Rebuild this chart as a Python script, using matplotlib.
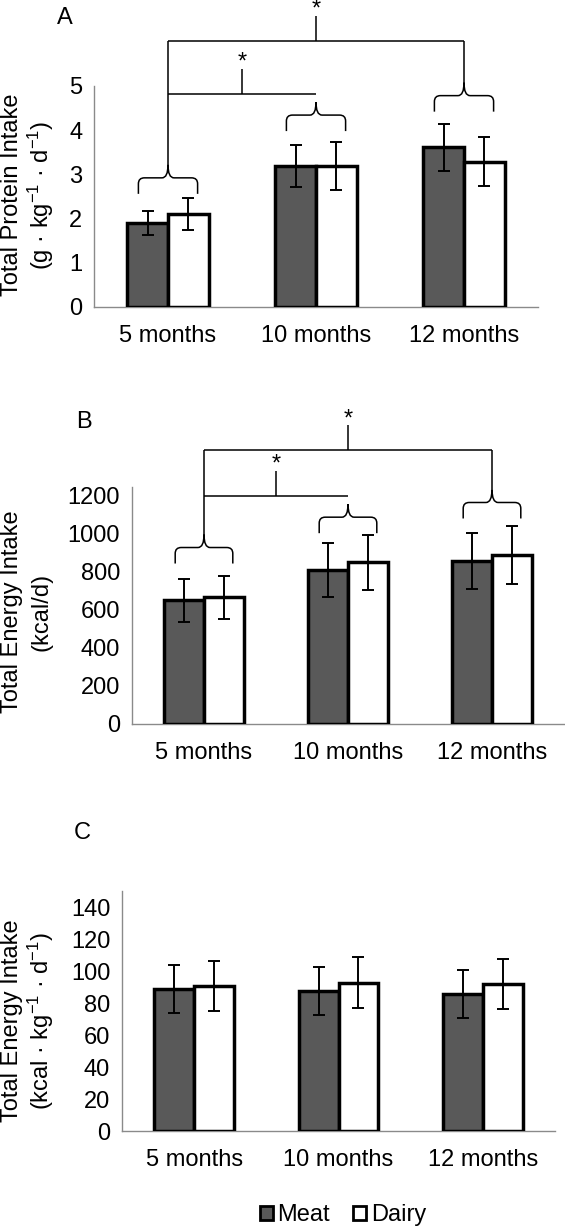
import matplotlib
matplotlib.use('Agg')
import matplotlib.pyplot as plt
from matplotlib.path import Path
from matplotlib.patches import PathPatch, Patch
import numpy as np

plt.rcParams['font.family'] = ['Liberation Sans', 'DejaVu Sans']
plt.rcParams['mathtext.fontset'] = 'custom'
plt.rcParams['mathtext.rm'] = 'Liberation Sans'
plt.rcParams['mathtext.it'] = 'Liberation Sans:italic'
plt.rcParams['mathtext.default'] = 'regular'

months = ['5 months', '10 months', '12 months']

# panel A - protein, g/kg/d
protein_meat = [1.90, 3.19, 3.61]
protein_meat_sd = [0.27, 0.48, 0.54]
protein_dairy = [2.10, 3.19, 3.29]
protein_dairy_sd = [0.36, 0.54, 0.56]

# panel B - energy, kcal/d
energy_meat = [649, 806, 855]
energy_meat_sd = [112, 140, 145]
energy_dairy = [665, 847, 886]
energy_dairy_sd = [113, 145, 150]

# panel C - energy, kcal/kg/d
energy_kg_meat = [88.8, 87.7, 85.6]
energy_kg_meat_sd = [15.2, 15.1, 14.8]
energy_kg_dairy = [90.6, 92.7, 91.7]
energy_kg_dairy_sd = [15.5, 15.9, 15.6]

W, H = 565, 1226
FS = 17
MEAT_COL = '#595959'
AXIS_COL = '#8a8a8a'

fig = plt.figure(figsize=(W / 100, H / 100), dpi=100)


def px_axes(left, right, top, bottom):
    return fig.add_axes([left / W, 1 - bottom / H, (right - left) / W, (bottom - top) / H])


def setup(ax, ymax, yticks):
    x = np.arange(len(months))
    ax.set_xlim(-0.5, 2.5)
    ax.set_ylim(0, ymax)
    ax.set_yticks(yticks)
    ax.set_xticks(x)
    ax.set_xticklabels(months)
    for s in ['top', 'right']:
        ax.spines[s].set_visible(False)
    for s in ['left', 'bottom']:
        ax.spines[s].set_color(AXIS_COL)
        ax.spines[s].set_linewidth(1.0)
    ax.tick_params(axis='both', length=0, labelsize=FS)
    ax.tick_params(axis='y', pad=8.5)
    ax.tick_params(axis='x', pad=13)


def draw_bars(ax, meat, meat_sd, dairy, dairy_sd):
    x = np.arange(len(months))
    w = 0.275
    ekw = dict(ecolor='black', elinewidth=1.4, capsize=4, capthick=1.4)
    ax.bar(x - w / 2, meat, w, color=MEAT_COL, edgecolor='black', linewidth=2.5,
           yerr=meat_sd, error_kw=ekw, zorder=3)
    ax.bar(x + w / 2, dairy, w, color='white', edgecolor='black', linewidth=2.5,
           yerr=dairy_sd, error_kw=ekw, zorder=3)


def scales(ax):
    bb = ax.get_position()
    wpx = bb.width * W
    hpx = bb.height * H
    x0, x1 = ax.get_xlim()
    y0, y1 = ax.get_ylim()
    return (x1 - x0) / wpx, (y1 - y0) / hpx


def brace(ax, xc, ybase, hw=0.2):
    sx, sy = scales(ax)
    top = ybase + 16 * sy
    cusp = top + 13 * sy
    rx, ry = 6 * sx, 6 * sy
    verts = [(xc - hw, ybase), (xc - hw, top - ry), (xc - hw, top), (xc - hw + rx, top),
             (xc - rx, top), (xc, top), (xc, cusp), (xc, top), (xc + rx, top),
             (xc + hw - rx, top), (xc + hw, top), (xc + hw, top - ry), (xc + hw, ybase)]
    codes = [Path.MOVETO, Path.LINETO, Path.CURVE3, Path.CURVE3,
             Path.LINETO, Path.CURVE3, Path.CURVE3, Path.CURVE3, Path.CURVE3,
             Path.LINETO, Path.CURVE3, Path.CURVE3, Path.LINETO]
    ax.add_patch(PathPatch(Path(verts, codes), fill=False, edgecolor='black',
                           linewidth=1.1, clip_on=False))
    return cusp


def brackets(ax, bases, low, high):
    sx, sy = scales(ax)
    cusps = [brace(ax, i, b) for i, b in enumerate(bases)]
    kw = dict(color='black', linewidth=1.1, clip_on=False, solid_capstyle='butt')
    tick = 25 * sy
    # 5 vs 12 months
    ax.plot([0, 0], [cusps[0], high], **kw)
    ax.plot([0, 2], [high, high], **kw)
    ax.plot([2, 2], [cusps[2], high], **kw)
    ax.plot([1, 1], [high, high + tick], **kw)
    # 5 vs 10 months
    ax.plot([0, 1], [low, low], **kw)
    ax.plot([0.5, 0.5], [low, low + tick], **kw)
    for xs, ys in [(1, high + tick), (0.5, low + tick)]:
        ax.annotate('*', xy=(xs, ys), xytext=(0, 0), textcoords='offset points',
                    ha='center', va='baseline', fontsize=FS, annotation_clip=False)


def ylabel(lines, ycenter):
    fig.text(12 / W, 1 - ycenter / H, lines[0], rotation=90, ha='center', va='center', fontsize=FS)
    fig.text(41 / W, 1 - ycenter / H, lines[1], rotation=90, ha='center', va='center', fontsize=FS)


# A
axA = px_axes(94, 538, 86, 307)
setup(axA, 5, range(0, 6))
draw_bars(axA, protein_meat, protein_meat_sd, protein_dairy, protein_dairy_sd)
brackets(axA, [2.56, 3.98, 4.42], 4.83, 6.02)
ylabel(['Total Protein Intake', r'(g · kg$^{-1}$ · d$^{-1}$)'], 195)
fig.text(65 / W, 1 - 18 / H, 'A', ha='center', va='center', fontsize=FS)

# B
axB = px_axes(132, 564, 487, 724)
setup(axB, 1242, range(0, 1201, 200))
draw_bars(axB, energy_meat, energy_meat_sd, energy_dairy, energy_dairy_sd)
brackets(axB, [841, 1000, 1077], 1195, 1435)
ylabel(['Total Energy Intake', '(kcal/d)'], 612)
fig.text(84 / W, 1 - 422 / H, 'B', ha='center', va='center', fontsize=FS)

# C
axC = px_axes(122, 555, 891, 1131)
setup(axC, 150, range(0, 141, 20))
draw_bars(axC, energy_kg_meat, energy_kg_meat_sd, energy_kg_dairy, energy_kg_dairy_sd)
ylabel(['Total Energy Intake', r'(kcal · kg$^{-1}$ · d$^{-1}$)'], 1021)
fig.text(82 / W, 1 - 833 / H, 'C', ha='center', va='center', fontsize=FS)

handles = [Patch(facecolor=MEAT_COL, edgecolor='black', linewidth=2),
           Patch(facecolor='white', edgecolor='black', linewidth=2)]
fig.legend(handles, ['Meat', 'Dairy'], loc='center', bbox_to_anchor=(343 / W, 1 - 1215 / H),
           ncol=2, frameon=False, fontsize=FS, handlelength=0.55, handleheight=0.55,
           handletextpad=0.2, columnspacing=1.0, borderpad=0)

fig.savefig('out.png', dpi=100)
